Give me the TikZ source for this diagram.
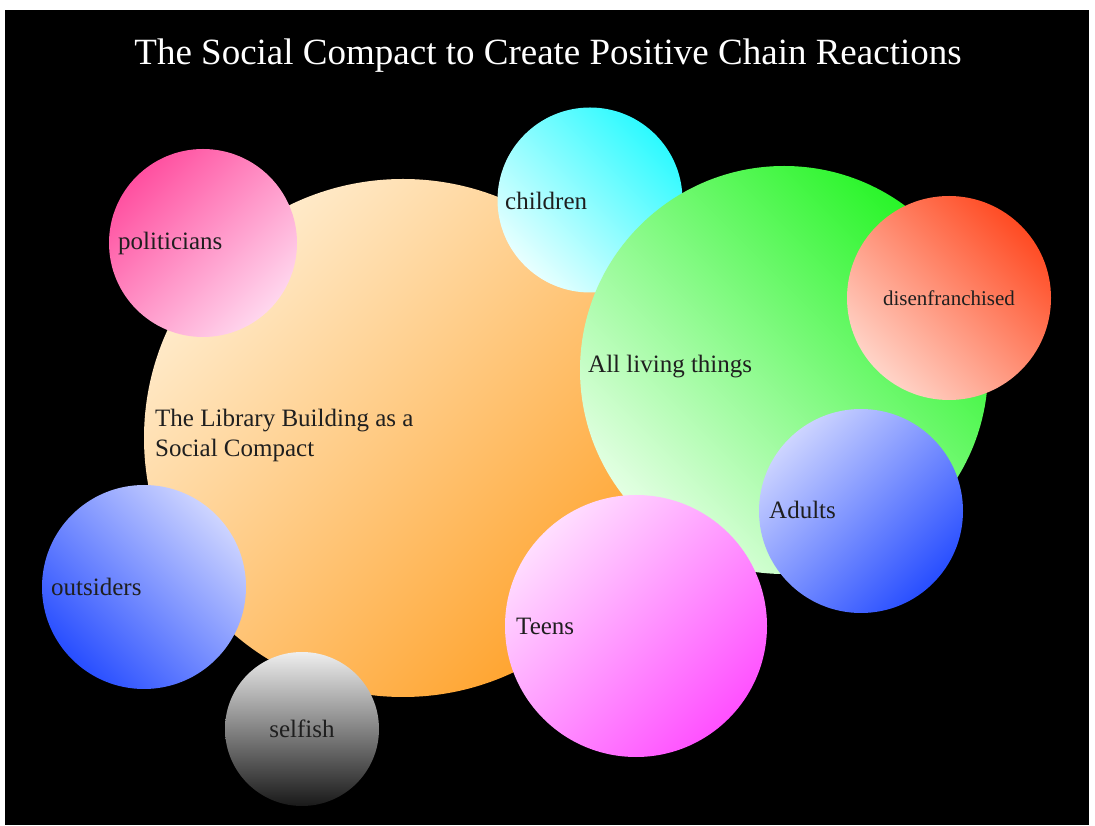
\documentclass[tikz,border=0pt]{standalone}
\usepackage{fontspec}
\setmainfont{Liberation Serif}
\begin{document}
\begin{tikzpicture}[x=1pt,y=1pt,
  bubble/.style={circle,inner sep=0pt,outer sep=0pt,draw=none,shading=axis},
  lbl/.style={text=black!88,font=\fontsize{25}{30}\selectfont,inner sep=0pt,anchor=west,align=left},
  ttl/.style={text=white,font=\fontsize{37}{44}\selectfont,inner sep=0pt}]
\useasboundingbox (0,0) rectangle (1095,825);
\fill[white] (0,0) rectangle (1095,825);
\fill[black] (5,0) rectangle (1089,815);
\node[ttl] (title) at (548,769) {The Social Compact to Create Positive Chain Reactions};
% bubbles
\node[bubble,minimum size=518pt,top color={rgb,255:red,255;green,236;blue,205},bottom color={rgb,255:red,255;green,163;blue,45},shading angle=45] (library) at (403,387) {};
\node[bubble,minimum size=188pt,top color={rgb,255:red,255;green,80;blue,160},bottom color={rgb,255:red,255;green,215;blue,238},shading angle=45] (politicians) at (203,582) {};
\node[bubble,minimum size=185pt,top color={rgb,255:red,45;green,250;blue,255},bottom color={rgb,255:red,232;green,255;blue,255},shading angle=-45] (children) at (590,625) {};
\node[bubble,minimum size=408pt,top color={rgb,255:red,40;green,245;blue,40},bottom color={rgb,255:red,228;green,255;blue,228},shading angle=-45] (living) at (784,455) {};
\node[bubble,minimum size=204pt,top color={rgb,255:red,255;green,75;blue,35},bottom color={rgb,255:red,255;green,212;blue,200},shading angle=-45] (disen) at (949,527) {};
\node[bubble,minimum size=204pt,top color={rgb,255:red,205;green,212;blue,255},bottom color={rgb,255:red,40;green,78;blue,255},shading angle=45] (adults) at (861,314) {};
\node[bubble,minimum size=262pt,top color={rgb,255:red,255;green,222;blue,255},bottom color={rgb,255:red,255;green,80;blue,255},shading angle=45] (teens) at (636,199) {};
\node[bubble,minimum size=204pt,top color={rgb,255:red,205;green,212;blue,255},bottom color={rgb,255:red,40;green,78;blue,255},shading angle=-45] (outsiders) at (144,238) {};
\node[bubble,minimum size=154pt,top color={rgb,255:red,238;green,238;blue,238},bottom color={rgb,255:red,25;green,25;blue,25}] (selfish) at (302,96) {};
% labels
\node[lbl] (lpol) at (118,582) {politicians};
\node[lbl] (lchi) at (505,624) {children};
\node[lbl] (llib) at (155,390) {The Library Building as a\\Social Compact};
\node[lbl] (lliv) at (588,458) {All living things};
\node[lbl,anchor=center,font=\fontsize{21}{25}\selectfont] (ldis) at (949,527) {disenfranchised};
\node[lbl] (ladu) at (769,315) {Adults};
\node[lbl] (ltee) at (516,199) {Teens};
\node[lbl] (lout) at (51,238) {outsiders};
\node[lbl,anchor=center] (lsel) at (302,96) {selfish};
\end{tikzpicture}
\end{document}
